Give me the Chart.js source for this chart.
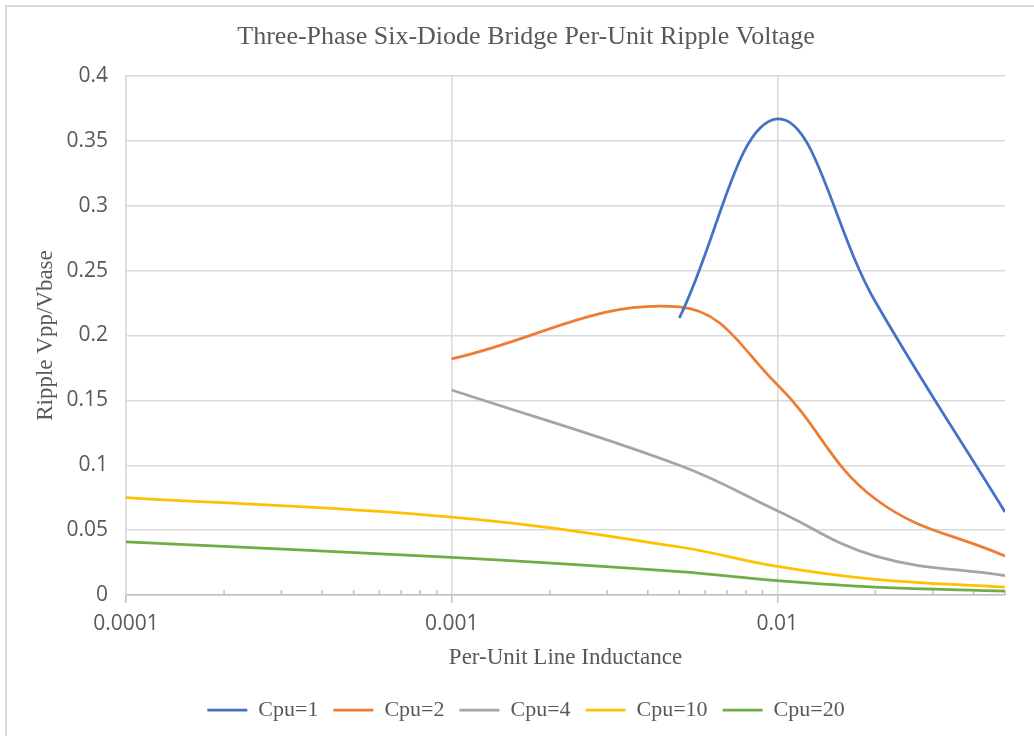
<!DOCTYPE html>
<html>
<head>
<meta charset="utf-8">
<script src="https://cdn.jsdelivr.net/npm/chart.js@4"></script>
<style>
  html, body { margin: 0; padding: 0; background: #fff; overflow: hidden; }
  #frame { position: absolute; left: 5px; top: 5px; width: 1100px; height: 800px; border: 2px solid #d9d9d9; }
  #chart { position: absolute; left: 0; top: 0; }
</style>
</head>
<body>
<div id="frame"></div>
<canvas id="chart" width="1034" height="736"></canvas>
<script>
// per-unit line inductance (x values) shared by every series
const inductance = [0.0001, 0.001, 0.005, 0.01, 0.02, 0.05];

// ripple Vpp/Vbase (null = no point)
const cpu1 = [null, null, 0.2135, 0.367, 0.226, 0.064];
const cpu2 = [null, 0.182, 0.222, 0.162, 0.074, 0.030];
const cpu4 = [null, 0.158, 0.100, 0.065, 0.030, 0.015];
const cpu10 = [0.075, 0.060, 0.037, 0.022, 0.012, 0.006];
const cpu20 = [0.041, 0.029, 0.018, 0.011, 0.006, 0.003];

const seriesNames = ['Cpu=1', 'Cpu=2', 'Cpu=4', 'Cpu=10', 'Cpu=20'];
const seriesColors = ['#4472C4', '#ED7D31', '#A5A5A5', '#FFC000', '#70AD47'];

// labelled decades on the x axis
const xMajorTicks = [0.0001, 0.001, 0.01];
const xTickLabels = ['0.0001', '0.001', '0.01'];

const textColor = '#595959';
const gridColor = '#d9d9d9';

function toPoints(values) {
  return inductance.map((x, i) => ({ x: x, y: values[i] }));
}

function majorIndex(v) {
  return xMajorTicks.findIndex(m => Math.abs(v / m - 1) < 1e-6);
}

// all 1..9 multiples inside the range, for the minor tick marks
const xAllTicks = [];
xMajorTicks.forEach(d => {
  for (let k = 1; k <= 9; k++) {
    const v = Number((k * d).toPrecision(6));
    if (v <= 0.05 + 1e-9) xAllTicks.push(v);
  }
});

const allSeries = [cpu1, cpu2, cpu4, cpu10, cpu20];
const datasets = allSeries.map((s, i) => ({
  label: seriesNames[i],
  data: toPoints(s),
  borderColor: seriesColors[i],
  backgroundColor: seriesColors[i],
  borderWidth: 2.75,
  pointRadius: 0,
  tension: 0.4,
  fill: false
}));

// small upward tick marks at minor values, like the original
const minorTicks = {
  id: 'minorTicks',
  beforeDatasetsDraw(chart) {
    const x = chart.scales.x;
    const ctx = chart.ctx;
    const bottom = chart.chartArea.bottom;
    ctx.save();
    ctx.strokeStyle = '#bfbfbf';
    ctx.lineWidth = 1.5;
    xAllTicks.forEach(v => {
      if (majorIndex(v) >= 0) return;
      const px = x.getPixelForValue(v);
      ctx.beginPath();
      ctx.moveTo(px, bottom);
      ctx.lineTo(px, bottom - 5);
      ctx.stroke();
    });
    ctx.restore();
  }
};

new Chart(document.getElementById('chart'), {
  type: 'line',
  data: { datasets: datasets },
  plugins: [minorTicks],
  options: {
    responsive: false,
    animation: false,
    // left padding shifts the title and legend centre to match the original
    layout: { padding: { left: 47, right: 29, top: 0, bottom: 5 } },
    plugins: {
      title: {
        display: true,
        text: 'Three-Phase Six-Diode Bridge Per-Unit Ripple Voltage',
        color: textColor,
        font: { family: 'Liberation Serif', size: 26, weight: 'normal' },
        padding: { top: 22, bottom: 22.8 }
      },
      legend: {
        position: 'bottom',
        labels: {
          color: textColor,
          font: { family: 'Liberation Serif', size: 22 },
          usePointStyle: true,
          pointStyle: 'line',
          pointStyleWidth: 40,
          padding: 15
        }
      },
      tooltip: { enabled: false }
    },
    scales: {
      x: {
        type: 'logarithmic',
        min: 0.0001,
        max: 0.05,
        afterBuildTicks: scale => {
          scale.ticks = xAllTicks.map(v => ({ value: v }));
        },
        afterFit: scale => { scale.height = 89; },
        ticks: {
          autoSkip: false,
          maxRotation: 0,
          color: textColor,
          padding: 8,
          font: { family: 'Open Sans', size: 21 },
          callback: v => {
            const i = majorIndex(v);
            return i >= 0 ? xTickLabels[i] : '';
          }
        },
        grid: {
          color: c => (c.tick && majorIndex(c.tick.value) >= 0) ? gridColor : 'rgba(0,0,0,0)',
          tickColor: c => (c.tick && majorIndex(c.tick.value) >= 0) ? '#bfbfbf' : 'rgba(0,0,0,0)',
          lineWidth: 1.5,
          tickLength: 8
        },
        border: { color: '#bfbfbf', width: 1.5 },
        title: {
          display: true,
          text: 'Per-Unit Line Inductance',
          color: textColor,
          font: { family: 'Liberation Serif', size: 23 },
          padding: { top: 0, bottom: 12.2 }
        }
      },
      y: {
        min: 0,
        max: 0.4,
        afterFit: scale => { scale.width = 79; },
        ticks: {
          stepSize: 0.05,
          color: textColor,
          padding: 18,
          font: { family: 'Open Sans', size: 21 },
          callback: v => String(Number(v.toFixed(2)))
        },
        grid: { color: gridColor, lineWidth: 1.5, drawTicks: false },
        border: { color: gridColor, width: 1.5 },
        title: {
          display: true,
          text: 'Ripple Vpp/Vbase',
          color: textColor,
          font: { family: 'Liberation Serif', size: 23 },
          padding: { top: -14.8, bottom: 0 }
        }
      }
    }
  }
});
</script>
</body>
</html>
